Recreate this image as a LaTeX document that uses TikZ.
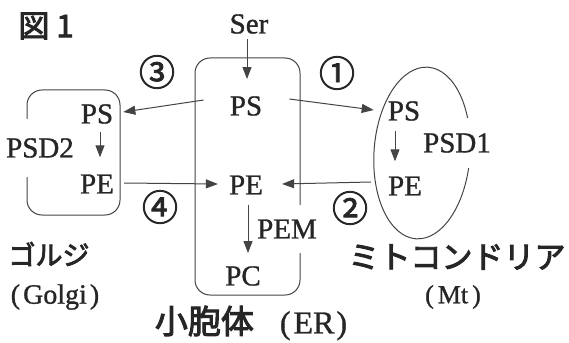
\documentclass[tikz,border=0pt]{standalone}
\usepackage{fontspec}
\setmainfont{Liberation Serif}[FakeBold=1.0]
\newfontfamily\jp{Noto Sans CJK JP}[FakeBold=3.0]
\newfontfamily\jpc{Noto Sans CJK JP}[FakeBold=2.2]
\usetikzlibrary{arrows.meta,shapes.geometric}
\definecolor{txt}{HTML}{262626}
\definecolor{lnc}{HTML}{444444}
\begin{document}
\begin{tikzpicture}[x=1pt,y=-1pt,
  every node/.style={inner sep=0pt,text=txt},
  lbl/.style={font=\fontsize{29}{29}\selectfont},
  cnum/.style={font=\jpc\fontsize{36}{36}\selectfont},
  comp/.style={draw=lnc,line width=1pt,rounded corners=15pt},
  gap/.style={fill=white},
  arr/.style={draw=lnc,line width=1pt,-{Triangle[length=12pt,width=9pt]}}]
\useasboundingbox (0,0) rectangle (569,342);
\fill[white] (0,0) rectangle (569,342);
% compartments
\node[comp,minimum width=105pt,minimum height=237pt] (er) at (247.5,176.5) {};
\node[comp,minimum width=93pt,minimum height=125pt] (golgi) at (73.5,152.5) {};
\node[draw=lnc,line width=1pt,ellipse,minimum width=96pt,minimum height=172pt,rotate=-4] (mt) at (422,153) {};
% title
\node[font=\jp\fontsize{31}{31}\selectfont] (title) at (46,26) {図 1};
% ER
\node[lbl] (ser) at (249,24) {Ser};
\node[lbl] (erps) at (246,106) {PS};
\node[lbl] (erpe) at (246,185) {PE};
\node[lbl] (erpc) at (243,276) {PC};
\node[lbl,gap,minimum height=48pt] (pem) at (287,229) {PEM};
% Golgi
\node[lbl] (gps) at (97,114) {PS};
\node[lbl] (gpe) at (97,184) {PE};
\node[lbl,gap,minimum height=58pt] (psd2) at (40,148) {PSD2};
% Mt
\node[lbl] (mps) at (404,111) {PS};
\node[lbl] (mpe) at (405,186) {PE};
\node[lbl,gap,minimum height=50pt] (psd1) at (457,143) {PSD1};
% circled numbers
\node[cnum] (n3) at (157,72) {③};
\node[cnum] (n1) at (337,73) {①};
\node[cnum] (n4) at (160,207) {④};
\node[cnum] (n2) at (350,208) {②};
% compartment names
\node[font=\jp\fontsize{27}{27}\selectfont] (gname) at (49,254) {ゴルジ};
\node[font=\fontsize{28}{28}\selectfont] (gname2) at (55,297) {(\kern3pt Golgi\kern3pt)};
\node[font=\jp\fontsize{31}{31}\selectfont] (mname) at (457,257) {ミトコンドリア};
\node[font=\fontsize{26}{26}\selectfont] (mname2) at (453,297) {(\kern4pt Mt\kern4pt)};
\node[font=\fontsize{32}{32}\selectfont] (ername) at (251,323) {{\jp\fontsize{33}{33}\selectfont 小胞体}\kern26pt(\kern3pt ER\kern2pt)};
% arrows
\draw[arr,shorten <=5pt,shorten >=17pt] ([xshift=-2pt]ser.south) -- ([xshift=1pt]erps.north);
\draw[arr,shorten <=10pt,shorten >=13pt] ([xshift=2pt]erpe.south) -- ([xshift=5pt]erpc.north);
\draw[arr,shorten <=8pt,shorten >=17pt] ([xshift=3pt]gps.south) -- ([xshift=3pt]gpe.north);
\draw[arr,shorten <=10pt,shorten >=15pt] ([xshift=-9pt]mps.south) -- ([xshift=-10pt]mpe.north);
\draw[arr] ([shift={(-26,-6)}]erps.west) -- ([shift={(10,-2)}]gps.east);
\draw[arr] ([shift={(27,-7)}]erps.east) -- ([shift={(-14,-1)}]mps.west);
\draw[arr] ([shift={(10,-1)}]gpe.east) -- ([shift={(-11,-1)}]erpe.west);
\draw[arr] ([shift={(-17,-4)}]mpe.west) -- ([shift={(19,-1)}]erpe.east);
\end{tikzpicture}
\end{document}
